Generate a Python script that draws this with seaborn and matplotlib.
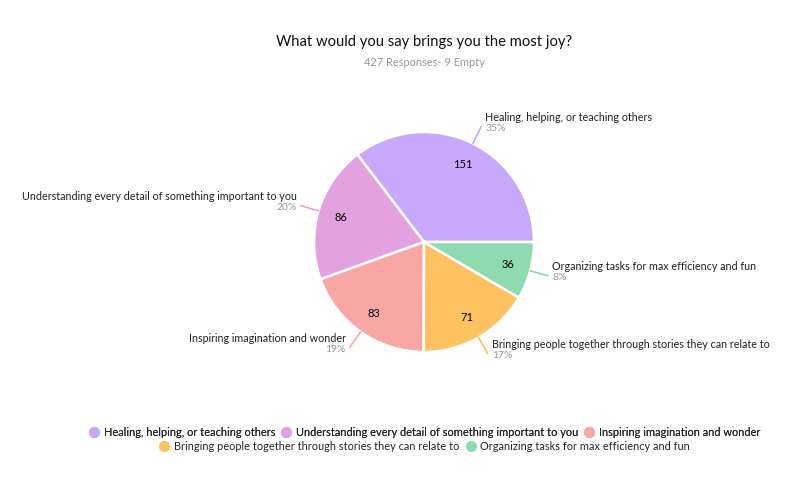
import numpy as np
import matplotlib
matplotlib.use("Agg")
import matplotlib.pyplot as plt
from matplotlib.lines import Line2D
import seaborn as sns

# survey answers
labels = ["Healing, helping, or teaching others",
          "Understanding every detail of something important to you",
          "Inspiring imagination and wonder",
          "Bringing people together through stories they can relate to",
          "Organizing tasks for max efficiency and fun"]
counts = [151, 86, 83, 71, 36]
pcts = ["35%", "20%", "19%", "17%", "8%"]
colors = sns.color_palette(["#c8a8fa", "#e3a2df", "#f8a7a5", "#fec260", "#90dab0"])

sns.set_theme(style="white")
plt.rcParams['font.family'] = ['Lato', 'DejaVu Sans']

fig = plt.figure(figsize=(8, 4.92), dpi=100)
ax = fig.add_axes([0.3925, 0.2846, 0.275, 0.447])

wedges, txts = ax.pie(counts, colors=colors, startangle=0, counterclock=True,
                      wedgeprops=dict(edgecolor="white", linewidth=1.8),
                      labels=[str(c) for c in counts], labeldistance=0.79,
                      textprops=dict(fontsize=8, color="black", ha="center", va="center"))
ax.set_xlim(-1, 1)
ax.set_ylim(-1, 1)
ax.set_aspect("equal")
ax.axis("off")

# outside labels with short leader lines
for w, lab, p, col in zip(wedges, labels, pcts, colors):
    ang = np.deg2rad((w.theta1 + w.theta2) / 2)
    x0, y0 = np.cos(ang) * 1.0, np.sin(ang) * 1.0
    x1, y1 = np.cos(ang) * 1.17, np.sin(ang) * 1.17
    ax.plot([x0, x1], [y0, y1], color=col, lw=1.2, clip_on=False)
    side = 1 if x1 >= 0 else -1
    ha = "left" if side > 0 else "right"
    ax.annotate(lab, (x1, y1), xytext=(4 * side, 9), textcoords="offset pixels",
                ha=ha, va="center", fontsize=7.75, color="#222222", annotation_clip=False)
    ax.annotate(p, (x1, y1), xytext=(4 * side, -2), textcoords="offset pixels",
                ha=ha, va="center", fontsize=7.5, color="#999999", annotation_clip=False)

fig.text(0.53, 0.915, "What would you say brings you the most joy?",
         ha="center", va="center", fontsize=10.6, color="#111111")
fig.text(0.53, 0.872, "427 Responses- 9 Empty",
         ha="center", va="center", fontsize=7.9, color="#999999")

def handles(idx):
    return [Line2D([0], [0], marker="o", linestyle="", markersize=7,
                   markerfacecolor=colors[i], markeredgecolor=colors[i]) for i in idx]

leg_kw = dict(loc="center", frameon=False, fontsize=7.9, handletextpad=0.3,
              columnspacing=0.4, borderaxespad=0, handlelength=1.2)
leg1 = fig.legend(handles([0, 1, 2]), labels[:3], bbox_to_anchor=(0.53, 0.121), ncol=3, **leg_kw)
fig.add_artist(leg1)
fig.legend(handles([3, 4]), labels[3:], bbox_to_anchor=(0.53, 0.093), ncol=2, **leg_kw)

fig.savefig("out.png", dpi=100, facecolor="white")
